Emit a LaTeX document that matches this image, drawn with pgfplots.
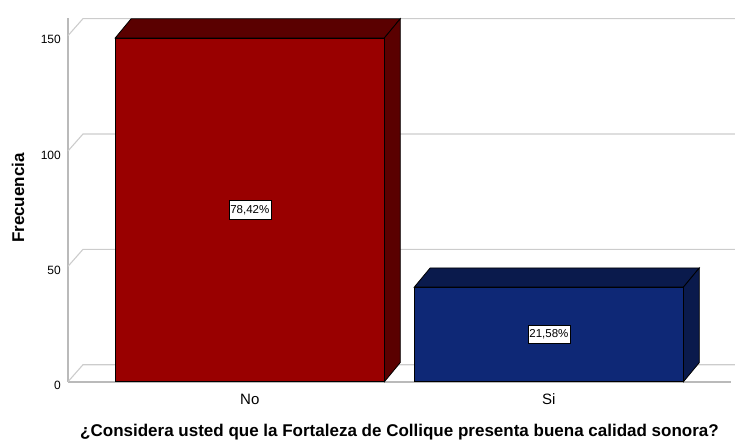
\documentclass[border=0pt]{standalone}
\usepackage{fontspec}
\setmainfont{Liberation Sans}
\usepackage{pgfplots}
\pgfplotsset{compat=1.18}
\definecolor{rojo}{RGB}{153,0,0}
\definecolor{rojoosc}{RGB}{90,0,0}
\definecolor{azul}{RGB}{14,40,118}
\definecolor{azulosc}{RGB}{10,26,76}
\begin{document}
\begin{tikzpicture}
\useasboundingbox (0,0) rectangle (735pt,442pt);
\begin{axis}[
  scale only axis, width=663pt, height=363.6pt,
  at={(68pt,60.3pt)}, anchor=south west,
  xmin=-0.608, xmax=1.609, ymin=0, ymax=157.6,
  axis x line*=bottom, axis y line*=left,
  axis line style={draw=black!27, line width=1.8pt, -},
  xtick={0,1}, xticklabels={No,Si},
  ytick={0,50,100,150},
  major tick length=0pt,
  tick style={draw=none},
  clip=false,
  /pgf/number format/assume math mode=true,
  yticklabel style={font=\fontsize{12}{14}\selectfont, inner sep=0pt, anchor=east, xshift=-7pt, yshift=-4pt},
  xticklabel style={font=\fontsize{15}{17}\selectfont, inner sep=0pt, anchor=north, yshift=-11.8pt},
  xlabel={¿Considera usted que la Fortaleza de Collique presenta buena calidad sonora?},
  xlabel style={at={(axis description cs:0.5,-0.1507)}, anchor=base, font=\bfseries\fontsize{17}{20}\selectfont, inner sep=0pt},
  ylabel={Frecuencia},
  ylabel style={at={(axis description cs:-0.0754,0.505)}, anchor=center, rotate=0, font=\bfseries\fontsize{17}{20}\selectfont, inner sep=0pt},
]
% back wall grid with depth connectors
\pgfplotsinvokeforeach{0,50,100,150}{
  \draw[black!20, line width=1.1pt] (axis cs:-0.608,#1) -- ++(15pt,17pt) -- ([xshift=4pt,yshift=17pt]axis cs:1.609,#1);
}
% bar No
\addplot[ybar, bar width=0.9, bar shift=0pt, fill=rojo, draw=black, line width=0.8pt] coordinates {(0,149)};
\addplot[fill=rojoosc, draw=black, line width=0.8pt] coordinates {(-0.45,149) (0.45,149) (0.503,157.3) (-0.397,157.3)} -- cycle;
\addplot[fill=rojoosc, draw=black, line width=0.8pt] coordinates {(0.45,0) (0.503,8.3) (0.503,157.3) (0.45,149)} -- cycle;
% bar Si
\addplot[ybar, bar width=0.9, bar shift=0pt, fill=azul, draw=black, line width=0.8pt] coordinates {(1,41)};
\addplot[fill=azulosc, draw=black, line width=0.8pt] coordinates {(0.55,41) (1.45,41) (1.503,49.3) (0.603,49.3)} -- cycle;
\addplot[fill=azulosc, draw=black, line width=0.8pt] coordinates {(1.45,0) (1.503,8.3) (1.503,49.3) (1.45,41)} -- cycle;
% percentage labels
\addplot[draw=none, mark=none, point meta=explicit symbolic, nodes near coords, nodes near coords align=center,
  every node near coord/.style={anchor=center, draw=black, line width=0.6pt, fill=white, text=black,
    font=\fontsize{11.5}{12}\selectfont, inner xsep=1.5pt, inner ysep=4pt, text height=8.5pt, text depth=2pt}]
  coordinates {(0,74.5) [78{,}42\%] (1,20.5) [21{,}58\%]};
\end{axis}
\end{tikzpicture}
\end{document}
